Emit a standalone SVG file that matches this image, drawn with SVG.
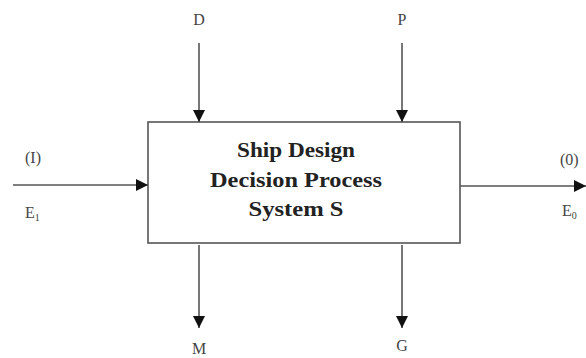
<svg xmlns="http://www.w3.org/2000/svg" width="586" height="358" viewBox="0 0 586 358">
<style>
.ln{stroke:#555;stroke-width:1.6;fill:none}
.lb{font-family:"Liberation Serif",serif;font-size:16px;fill:#444}
.sub{font-size:10px}
.tt{font-family:"Liberation Serif",serif;font-size:22px;font-weight:bold;fill:#222;text-anchor:middle}
</style>
<defs>
<marker id="ah" markerWidth="12" markerHeight="12" viewBox="0 0 12 12" refX="12" refY="6" orient="auto" markerUnits="userSpaceOnUse">
<path d="M0,0 L12,6 L0,12 Z" fill="#111"/>
</marker>
</defs>
<g id="system">
<rect x="148" y="122" width="312" height="121" fill="#fff" stroke="#555" stroke-width="1.6"/>
<text class="tt" x="296" y="157" textLength="118" lengthAdjust="spacingAndGlyphs">Ship Design</text>
<text class="tt" x="296" y="187" textLength="172" lengthAdjust="spacingAndGlyphs">Decision Process</text>
<text class="tt" x="296" y="216" textLength="95" lengthAdjust="spacingAndGlyphs">System S</text>
</g>
<g id="connectors">
<line class="ln" x1="13" y1="185" x2="148" y2="185" marker-end="url(#ah)"/>
<line class="ln" x1="460" y1="186" x2="586" y2="186" marker-end="url(#ah)"/>
<line class="ln" x1="199" y1="43" x2="199" y2="122" marker-end="url(#ah)"/>
<line class="ln" x1="402" y1="43" x2="402" y2="122" marker-end="url(#ah)"/>
<line class="ln" x1="199" y1="245" x2="199" y2="328" marker-end="url(#ah)"/>
<line class="ln" x1="402" y1="245" x2="402" y2="328" marker-end="url(#ah)"/>
</g>
<g id="labels">
<text class="lb" x="199" y="25" text-anchor="middle">D</text>
<text class="lb" x="402" y="25" text-anchor="middle">P</text>
<text class="lb" x="199" y="354" text-anchor="middle">M</text>
<text class="lb" x="402" y="351" text-anchor="middle">G</text>
<text class="lb" x="25" y="163">(I)</text>
<text class="lb" x="25" y="218">E<tspan class="sub" dy="3">1</tspan></text>
<text class="lb" x="560" y="165">(0)</text>
<text class="lb" x="562" y="216">E<tspan class="sub" dy="3">0</tspan></text>
</g>
</svg>
